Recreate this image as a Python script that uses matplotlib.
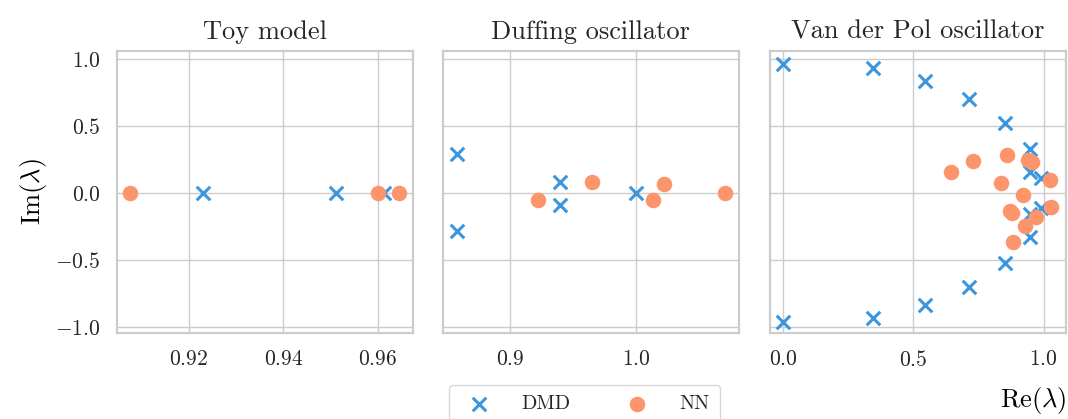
import matplotlib
matplotlib.use("Agg")
import matplotlib.pyplot as plt

plt.rcParams.update({
    "font.family": ["cmr10", "DejaVu Serif"],
    "mathtext.fontset": "cm",
    "axes.formatter.use_mathtext": True,
    "axes.unicode_minus": True,
    "axes.edgecolor": "#cccccc",
    "axes.linewidth": 1.6,
    "grid.color": "#cccccc",
    "grid.linewidth": 1.0,
    "text.color": "#262626",
    "xtick.color": "#262626",
    "ytick.color": "#262626",
})

titles = ["Toy model", "Duffing oscillator", "Van der Pol oscillator"]

# eigenvalues (real, imag) per system
toy_dmd_re = [0.923, 0.9512, 0.9613]
toy_dmd_im = [0.0, 0.0, 0.0]
toy_nn_re = [0.9076, 0.9599, 0.9645]
toy_nn_im = [0.0, 0.0, 0.0]

duf_dmd_re = [0.858, 0.858, 0.9393, 0.9393, 1.0]
duf_dmd_im = [0.289, -0.286, 0.085, -0.09, 0.0]
duf_nn_re = [0.9219, 0.965, 1.0135, 1.0218, 1.0702]
duf_nn_im = [-0.05, 0.085, -0.05, 0.07, 0.0]

vdp_dmd_re = [0.0, 0.344, 0.543, 0.714, 0.853, 0.947, 0.947, 0.988,
              0.988, 0.947, 0.947, 0.853, 0.714, 0.543, 0.344, 0.0]
vdp_dmd_im = [0.965, 0.935, 0.837, 0.698, 0.525, 0.328, 0.154, 0.111,
              -0.111, -0.154, -0.328, -0.525, -0.698, -0.837, -0.935, -0.96]
vdp_nn_re = [0.644, 0.727, 0.860, 0.94, 0.955, 1.026, 0.835, 0.919,
             0.871, 0.88, 1.028, 0.971, 0.927, 0.883]
vdp_nn_im = [0.159, 0.241, 0.281, 0.245, 0.235, 0.10, 0.075, -0.015,
             -0.137, -0.147, -0.107, -0.182, -0.249, -0.366]

systems = [
    (toy_dmd_re, toy_dmd_im, toy_nn_re, toy_nn_im),
    (duf_dmd_re, duf_dmd_im, duf_nn_re, duf_nn_im),
    (vdp_dmd_re, vdp_dmd_im, vdp_nn_re, vdp_nn_im),
]
xlims = [(0.9048, 0.9674), (0.8467, 1.0813), (-0.051, 1.0857)]
xticks = [[0.92, 0.94, 0.96], [0.9, 1.0], [0.0, 0.5, 1.0]]

dmd_color = "#3b96de"
nn_color = "#fd956c"

fig = plt.figure(figsize=(10.68, 4.19), dpi=100)
lefts = [117, 442.7, 770]
axes = []
for i, left in enumerate(lefts):
    ax = fig.add_axes([left / 1068, (419 - 333) / 419, 296 / 1068, 282 / 419],
                      sharey=axes[0] if axes else None)
    axes.append(ax)
    dre, dim, nre, nim = systems[i]
    ax.scatter(dre, dim, marker="x", s=95, linewidths=2.2, color=dmd_color,
               label="DMD", zorder=3)
    ax.scatter(nre, nim, marker="o", s=125, linewidths=0, color=nn_color,
               label="NN", zorder=4)
    ax.set_xlim(*xlims[i])
    ax.set_xticks(xticks[i])
    ax.set_ylim(-1.045, 1.06)
    ax.set_yticks([-1.0, -0.5, 0.0, 0.5, 1.0])
    ax.grid(True)
    ax.set_axisbelow(True)
    ax.set_title(titles[i], fontsize=19, pad=9)
    ax.tick_params(length=0, labelsize=15.5, pad=12)
    if i > 0:
        ax.tick_params(labelleft=False)

axes[0].set_ylabel(r"$\mathrm{Im}(\lambda)$", fontsize=19, labelpad=4)
axes[2].set_xlabel(r"$\mathrm{Re}(\lambda)$", fontsize=19, loc="right", labelpad=11)

handles, labels = axes[0].get_legend_handles_labels()
fig.legend(handles, labels, loc="upper left", ncol=2, fontsize=14.5,
           bbox_to_anchor=(449 / 1068, 1 - 385 / 419), borderaxespad=0,
           frameon=True, edgecolor="#cccccc", handletextpad=1.1,
           columnspacing=2.3, borderpad=0.5)

fig.savefig("out.png", dpi=100)
